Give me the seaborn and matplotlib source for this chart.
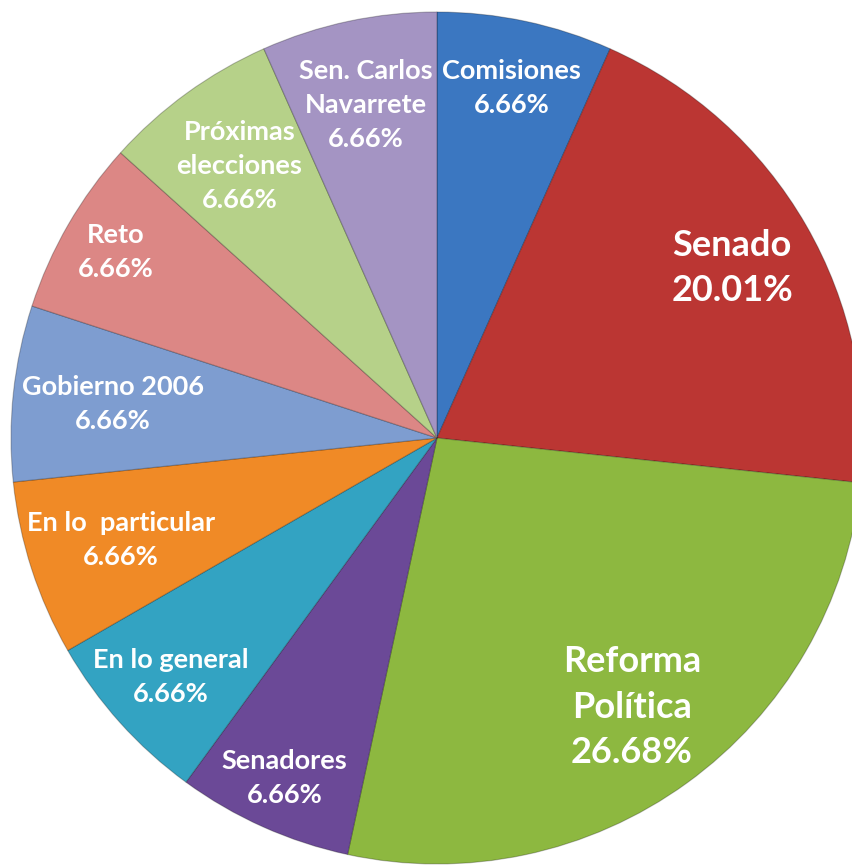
import numpy as np
import matplotlib
matplotlib.use("Agg")
import matplotlib.pyplot as plt
import seaborn as sns

categories = ["Comisiones", "Senado", "Reforma\nPolítica", "Senadores", "En lo general",
              "En lo  particular", "Gobierno 2006", "Reto", "Próximas\nelecciones",
              "Sen. Carlos\nNavarrete"]
values = [6.66, 20.01, 26.68, 6.66, 6.66, 6.66, 6.66, 6.66, 6.66, 6.66]
pct_labels = ["6.66%", "20.01%", "26.68%", "6.66%", "6.66%", "6.66%", "6.66%", "6.66%",
              "6.66%", "6.66%"]

colors = ["#3b77c1", "#bb3633", "#8db840", "#6b4997", "#33a3c2", "#f08a26",
          "#7e9dd0", "#dc8785", "#b6d189", "#a494c3"]
label_dist = [0.84, 0.80, 0.78, 0.875, 0.84, 0.78, 0.765, 0.87, 0.79, 0.80]
big = [False, True, True, False, False, False, False, False, False, False]

sns.set_theme(style="white")
plt.rcParams["font.family"] = ["Lato", "DejaVu Sans"]

W, H = 853, 865
cx, cy, R = 437, 438, 426
fig = plt.figure(figsize=(W / 100, H / 100), dpi=100)
ax = fig.add_axes([0, 0, 1, 1])

wedges, _ = ax.pie(values, colors=colors, startangle=90, counterclock=False,
                   radius=1.0, center=(0, 0), frame=True,
                   wedgeprops=dict(edgecolor=(0, 0, 0, 0.25), linewidth=0.8))
ax.set_xlim(-cx / R, (W - cx) / R)
ax.set_ylim(-(H - cy) / R, cy / R)
ax.set_aspect("auto")
ax.axis("off")

for w, cat, pct, d, b in zip(wedges, categories, pct_labels, label_dist, big):
    th = np.deg2rad((w.theta1 + w.theta2) / 2)
    x, y = d * np.cos(th), d * np.sin(th)
    fs = 26 if b else 19.5
    ax.text(x, y, f"{cat}\n{pct}", ha="center", va="center", color="white",
            fontsize=fs, fontweight="bold", linespacing=1.5 if not b else 1.45)

fig.savefig("out.png", dpi=100)
